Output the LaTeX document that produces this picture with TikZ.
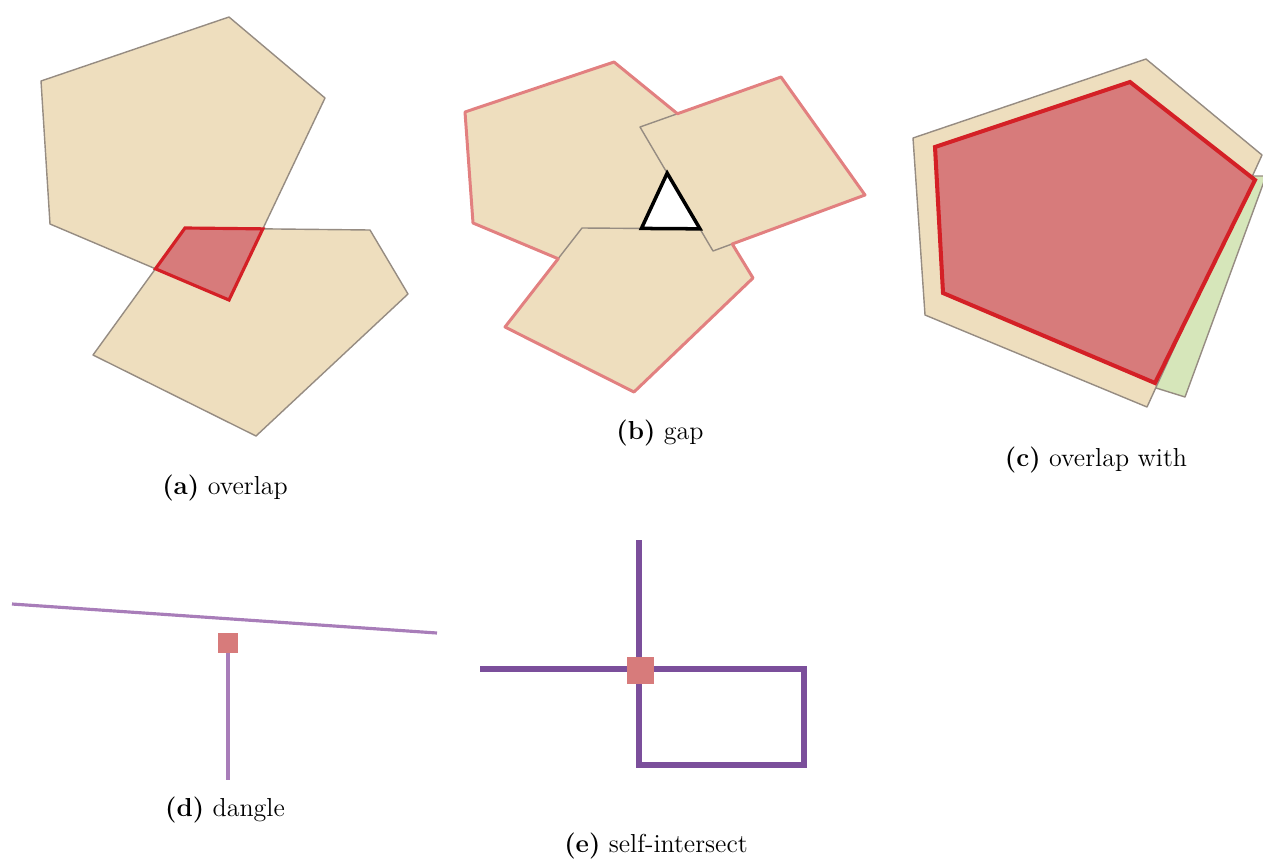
\documentclass[tikz,border=0pt]{standalone}
\usepackage{tikz}
\definecolor{polyBeige}{RGB}{238,222,190}
\definecolor{edgeGrey}{RGB}{150,140,130}
\definecolor{errFill}{RGB}{215,123,123}
\definecolor{errRed}{RGB}{212,32,38}
\definecolor{gapPink}{RGB}{226,128,128}
\definecolor{okGreen}{RGB}{214,230,186}
\definecolor{lineLilac}{RGB}{168,125,185}
\definecolor{lineViolet}{RGB}{123,79,155}

\begin{document}
\begin{tikzpicture}[x=0.02cm, y=-0.02cm,
    poly/.style={fill=polyBeige, draw=edgeGrey, line width=0.8pt, line join=round},
    errpoly/.style={fill=errFill, draw=errRed, line width=1.8pt, line join=miter},
    errmark/.style={fill=errFill, draw=none, inner sep=0pt, minimum size=#1},
    caption/.style={font=\fontsize{14.8}{18}\selectfont, inner sep=0pt}]
  \useasboundingbox (0,0) rectangle (1263,859);

  % (a) overlap
  \coordinate (a1) at (41,81);   \coordinate (a2) at (229,17);
  \coordinate (a3) at (325,98);  \coordinate (a4) at (229,300);
  \coordinate (a5) at (50,224);
  \coordinate (b1) at (185,228); \coordinate (b2) at (370,230);
  \coordinate (b3) at (408,294); \coordinate (b4) at (256,436);
  \coordinate (b5) at (93,355);
  \draw[poly] (a1) -- (a2) -- (a3) -- (a4) -- (a5) -- cycle;
  \draw[poly] (b1) -- (b2) -- (b3) -- (b4) -- (b5) -- cycle;
  \draw[errpoly] (b1) -- (intersection of a3--a4 and b1--b2) -- (a4)
    -- (intersection of a4--a5 and b5--b1) -- cycle;
  \node[caption] (capA) at (225,488) {\textbf{(a)} overlap};

  % (b) gap
  \coordinate (l1) at (465,112); \coordinate (l2) at (614,62);
  \coordinate (l3) at (690,124); \coordinate (l4) at (616,283);
  \coordinate (l5) at (473,223);
  \coordinate (p1) at (582,228); \coordinate (p2) at (723,229);
  \coordinate (p3) at (753,278); \coordinate (p4) at (634,392);
  \coordinate (p5) at (505,327);
  \coordinate (s1) at (640,127); \coordinate (s2) at (781,77);
  \coordinate (s3) at (865,195); \coordinate (s4) at (713,251);
  \draw[poly] (l1) -- (l2) -- (l3) -- (l4) -- (l5) -- cycle;
  \draw[poly] (p1) -- (p2) -- (p3) -- (p4) -- (p5) -- cycle;
  \draw[poly] (s1) -- (s2) -- (s3) -- (s4) -- cycle;
  \draw[gapPink, line width=1.7pt, line join=round]
    (l1) -- (l2) -- (intersection of l2--l3 and s1--s2) -- (s2) -- (s3)
    -- (intersection of s3--s4 and p2--p3) -- (p3) -- (p4) -- (p5)
    -- (intersection of p5--p1 and l5--l4) -- (l5) -- cycle;
  \draw[black, line width=2pt, line join=miter]
    (intersection of l3--l4 and s1--s4) -- (intersection of l3--l4 and p1--p2)
    -- (intersection of s1--s4 and p1--p2) -- cycle;
  \node[caption] (capB) at (660,433) {\textbf{(b)} gap};

  % (c) overlap with
  \begin{scope}
    \clip (0,0) rectangle (1263,859);
    \draw[poly, fill=okGreen] (1232,176) -- (1266,176) -- (1185,397) -- (1140,383) -- cycle;
  \end{scope}
  \draw[poly] (913,138) -- (1146,59) -- (1262,155) -- (1147,407) -- (925,315) -- cycle;
  \draw[errpoly, line width=2.3pt] (935,147) -- (1130,82) -- (1255,180) -- (1155,383) -- (943,293) -- cycle;
  \node[caption] (capC) at (1096,460) {\textbf{(c)} overlap with};

  % (d) dangle
  \coordinate (dW) at (12,604);  \coordinate (dE) at (437,633);
  \coordinate (dEnd) at (228,780);
  \draw[lineLilac, line width=1.8pt] (dW) -- (dE);
  \node[errmark=0.4cm] (dTip) at (228,643) {};
  \draw[lineLilac, line width=1.9pt] (dTip.south) -- (dEnd);
  \node[caption] (capD) at (225,810) {\textbf{(d)} dangle};

  % (e) self-intersect
  \coordinate (eTop) at (639,540); \coordinate (eLeft) at (480,669);
  \draw[lineViolet, line width=3.4pt, line join=miter]
    (eTop) -- (639,765) -- (804,765) -- (804,669) -- (eLeft);
  \node[errmark=0.54cm] (eCross) at (640.5,670.5) {};
  \node[caption] (capE) at (656,846) {\textbf{(e)} self-intersect};
\end{tikzpicture}
\end{document}
